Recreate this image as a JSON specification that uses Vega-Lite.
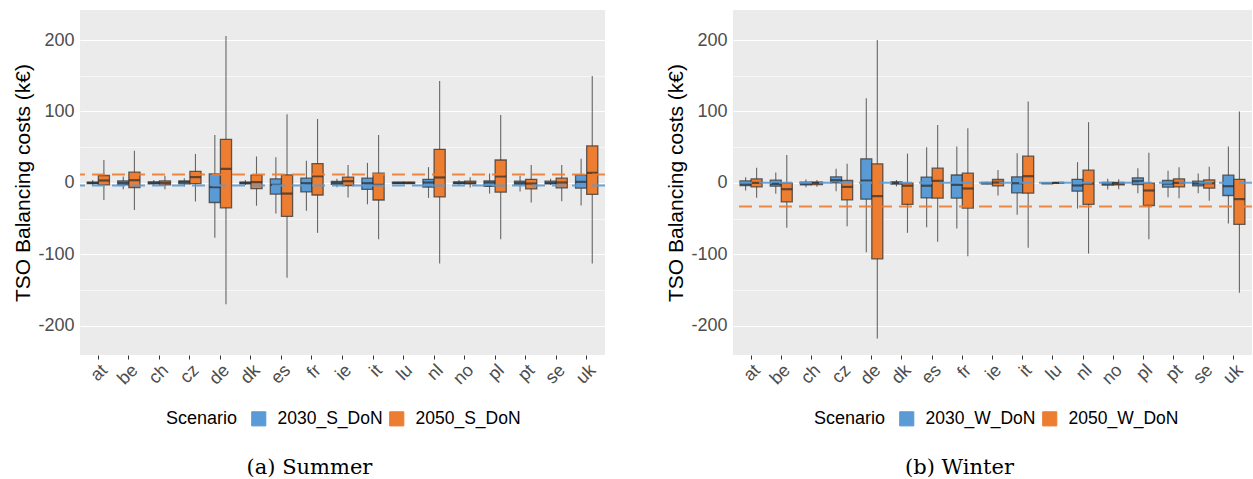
{
  "$schema": "https://vega.github.io/schema/vega-lite/v6.json",
  "padding": {"left": 12, "top": 10, "right": 0, "bottom": 0},
  "background": "white",
  "spacing": 59,
  "datasets": {
    "box": [
      {"season":"S","country":"at","scenario":"2030_S_DoN","lower":-4,"q1":-1,"median":0,"q3":1,"upper":4},
      {"season":"S","country":"at","scenario":"2050_S_DoN","lower":-24,"q1":-2.8,"median":3.3,"q3":10.3,"upper":32},
      {"season":"S","country":"be","scenario":"2030_S_DoN","lower":-9,"q1":-2.8,"median":0,"q3":2.8,"upper":9},
      {"season":"S","country":"be","scenario":"2050_S_DoN","lower":-38,"q1":-6.5,"median":3.7,"q3":15,"upper":45},
      {"season":"S","country":"ch","scenario":"2030_S_DoN","lower":-3,"q1":-1.4,"median":0,"q3":1.4,"upper":4},
      {"season":"S","country":"ch","scenario":"2050_S_DoN","lower":-9,"q1":-2.8,"median":0,"q3":2.8,"upper":10},
      {"season":"S","country":"cz","scenario":"2030_S_DoN","lower":-5,"q1":-1.4,"median":1,"q3":2.8,"upper":6.5},
      {"season":"S","country":"cz","scenario":"2050_S_DoN","lower":-26,"q1":-1,"median":8,"q3":16,"upper":40.5},
      {"season":"S","country":"de","scenario":"2030_S_DoN","lower":-77,"q1":-27.5,"median":-6,"q3":12.6,"upper":67},
      {"season":"S","country":"de","scenario":"2050_S_DoN","lower":-170,"q1":-35,"median":19.6,"q3":61,"upper":205.6},
      {"season":"S","country":"dk","scenario":"2030_S_DoN","lower":-3,"q1":-1.4,"median":0,"q3":1,"upper":4},
      {"season":"S","country":"dk","scenario":"2050_S_DoN","lower":-32,"q1":-8,"median":1,"q3":10.7,"upper":37},
      {"season":"S","country":"es","scenario":"2030_S_DoN","lower":-43,"q1":-15.9,"median":-2.8,"q3":5.6,"upper":36},
      {"season":"S","country":"es","scenario":"2050_S_DoN","lower":-133,"q1":-47,"median":-15,"q3":11.2,"upper":96},
      {"season":"S","country":"fr","scenario":"2030_S_DoN","lower":-39,"q1":-12.6,"median":-0.5,"q3":6.5,"upper":31},
      {"season":"S","country":"fr","scenario":"2050_S_DoN","lower":-70,"q1":-17,"median":9.3,"q3":27,"upper":89.5},
      {"season":"S","country":"ie","scenario":"2030_S_DoN","lower":-6,"q1":-2,"median":0,"q3":2,"upper":5.6},
      {"season":"S","country":"ie","scenario":"2050_S_DoN","lower":-20.5,"q1":-3.7,"median":2.3,"q3":8,"upper":25},
      {"season":"S","country":"it","scenario":"2030_S_DoN","lower":-30,"q1":-9,"median":-0.5,"q3":6.5,"upper":28},
      {"season":"S","country":"it","scenario":"2050_S_DoN","lower":-79,"q1":-24,"median":-2.8,"q3":13.5,"upper":67},
      {"season":"S","country":"lu","scenario":"2030_S_DoN","lower":-1.5,"q1":-1,"median":0,"q3":1,"upper":1.5},
      {"season":"S","country":"lu","scenario":"2050_S_DoN","lower":-1.5,"q1":-1,"median":0,"q3":1,"upper":1.5},
      {"season":"S","country":"nl","scenario":"2030_S_DoN","lower":-21,"q1":-6,"median":0.5,"q3":5,"upper":22},
      {"season":"S","country":"nl","scenario":"2050_S_DoN","lower":-113,"q1":-19.6,"median":7.5,"q3":47,"upper":142.7},
      {"season":"S","country":"no","scenario":"2030_S_DoN","lower":-3,"q1":-1,"median":0,"q3":1.4,"upper":4},
      {"season":"S","country":"no","scenario":"2050_S_DoN","lower":-6.5,"q1":-1.4,"median":0,"q3":2.3,"upper":8},
      {"season":"S","country":"pl","scenario":"2030_S_DoN","lower":-15,"q1":-5,"median":0.5,"q3":2.8,"upper":13},
      {"season":"S","country":"pl","scenario":"2050_S_DoN","lower":-79,"q1":-13,"median":9,"q3":32,"upper":95},
      {"season":"S","country":"pt","scenario":"2030_S_DoN","lower":-12,"q1":-2,"median":0,"q3":2.3,"upper":10},
      {"season":"S","country":"pt","scenario":"2050_S_DoN","lower":-27.5,"q1":-8.4,"median":-1,"q3":5,"upper":25},
      {"season":"S","country":"se","scenario":"2030_S_DoN","lower":-3,"q1":-1.4,"median":0,"q3":2.3,"upper":5.6},
      {"season":"S","country":"se","scenario":"2050_S_DoN","lower":-25.6,"q1":-7,"median":0.5,"q3":6.5,"upper":25},
      {"season":"S","country":"uk","scenario":"2030_S_DoN","lower":-31.7,"q1":-7.5,"median":1.4,"q3":10.7,"upper":33.6},
      {"season":"S","country":"uk","scenario":"2050_S_DoN","lower":-113,"q1":-16,"median":14,"q3":51.7,"upper":149.7},
      {"season":"W","country":"at","scenario":"2030_W_DoN","lower":-10.7,"q1":-4,"median":-1.4,"q3":2.8,"upper":8},
      {"season":"W","country":"at","scenario":"2050_W_DoN","lower":-21,"q1":-5.6,"median":0,"q3":5.6,"upper":21},
      {"season":"W","country":"be","scenario":"2030_W_DoN","lower":-15.4,"q1":-4.7,"median":-1.4,"q3":3.7,"upper":14.5},
      {"season":"W","country":"be","scenario":"2050_W_DoN","lower":-63,"q1":-26.6,"median":-8.9,"q3":-0.5,"upper":39},
      {"season":"W","country":"ch","scenario":"2030_W_DoN","lower":-6,"q1":-2.8,"median":-1,"q3":1,"upper":4.7},
      {"season":"W","country":"ch","scenario":"2050_W_DoN","lower":-5.6,"q1":-2.3,"median":0,"q3":1,"upper":4},
      {"season":"W","country":"cz","scenario":"2030_W_DoN","lower":-11.7,"q1":0,"median":3.7,"q3":8.4,"upper":19.6},
      {"season":"W","country":"cz","scenario":"2050_W_DoN","lower":-60.6,"q1":-23.8,"median":-5.6,"q3":3.3,"upper":26.6},
      {"season":"W","country":"de","scenario":"2030_W_DoN","lower":-97,"q1":-22.8,"median":3.3,"q3":33.6,"upper":118.4},
      {"season":"W","country":"de","scenario":"2050_W_DoN","lower":-218,"q1":-106.3,"median":-18.6,"q3":26.6,"upper":200},
      {"season":"W","country":"dk","scenario":"2030_W_DoN","lower":-5,"q1":-1.9,"median":0,"q3":1.4,"upper":4},
      {"season":"W","country":"dk","scenario":"2050_W_DoN","lower":-70,"q1":-30,"median":-4,"q3":-0.5,"upper":41},
      {"season":"W","country":"es","scenario":"2030_W_DoN","lower":-62,"q1":-21,"median":-4,"q3":8,"upper":50},
      {"season":"W","country":"es","scenario":"2050_W_DoN","lower":-82.5,"q1":-21.4,"median":2.8,"q3":20.5,"upper":81},
      {"season":"W","country":"fr","scenario":"2030_W_DoN","lower":-64,"q1":-21.4,"median":-2.8,"q3":11,"upper":51},
      {"season":"W","country":"fr","scenario":"2050_W_DoN","lower":-102.6,"q1":-35.4,"median":-7.9,"q3":13.5,"upper":76.5},
      {"season":"W","country":"ie","scenario":"2030_W_DoN","lower":-2,"q1":-1.4,"median":-0.5,"q3":0.5,"upper":1.5},
      {"season":"W","country":"ie","scenario":"2050_W_DoN","lower":-17.7,"q1":-4.2,"median":0.5,"q3":4.7,"upper":18},
      {"season":"W","country":"it","scenario":"2030_W_DoN","lower":-44.8,"q1":-14,"median":-0.5,"q3":8.4,"upper":41.5},
      {"season":"W","country":"it","scenario":"2050_W_DoN","lower":-91,"q1":-14.5,"median":9.3,"q3":37.3,"upper":113.8},
      {"season":"W","country":"lu","scenario":"2030_W_DoN","lower":-1.5,"q1":-1,"median":-0.5,"q3":0,"upper":1},
      {"season":"W","country":"lu","scenario":"2050_W_DoN","lower":-1,"q1":-0.5,"median":0,"q3":0.5,"upper":1},
      {"season":"W","country":"nl","scenario":"2030_W_DoN","lower":-36,"q1":-11.7,"median":-3.7,"q3":5,"upper":29},
      {"season":"W","country":"nl","scenario":"2050_W_DoN","lower":-99,"q1":-30,"median":-1,"q3":17.7,"upper":85},
      {"season":"W","country":"no","scenario":"2030_W_DoN","lower":-9.3,"q1":-3.3,"median":-1,"q3":0.5,"upper":5.6},
      {"season":"W","country":"no","scenario":"2050_W_DoN","lower":-8.9,"q1":-2.8,"median":-1,"q3":0.5,"upper":5},
      {"season":"W","country":"pl","scenario":"2030_W_DoN","lower":-14.5,"q1":-2.3,"median":2.3,"q3":7,"upper":20.5},
      {"season":"W","country":"pl","scenario":"2050_W_DoN","lower":-79,"q1":-31.7,"median":-10.7,"q3":-0.5,"upper":42},
      {"season":"W","country":"pt","scenario":"2030_W_DoN","lower":-20,"q1":-6,"median":-1,"q3":3.3,"upper":17},
      {"season":"W","country":"pt","scenario":"2050_W_DoN","lower":-21.4,"q1":-5.6,"median":0,"q3":5.6,"upper":22},
      {"season":"W","country":"se","scenario":"2030_W_DoN","lower":-14.5,"q1":-4.2,"median":-1,"q3":2.3,"upper":13},
      {"season":"W","country":"se","scenario":"2050_W_DoN","lower":-25,"q1":-7.5,"median":-0.5,"q3":4.2,"upper":22.4},
      {"season":"W","country":"uk","scenario":"2030_W_DoN","lower":-57,"q1":-17.7,"median":-4.7,"q3":10.7,"upper":51},
      {"season":"W","country":"uk","scenario":"2050_W_DoN","lower":-154,"q1":-58,"median":-22.8,"q3":5,"upper":100}
    ],
    "means": [
      {"season":"S","scenario":"2030_S_DoN","mean":-3.7},
      {"season":"S","scenario":"2050_S_DoN","mean":11.7},
      {"season":"W","scenario":"2030_W_DoN","mean":0},
      {"season":"W","scenario":"2050_W_DoN","mean":-33}
    ]
  },
  "hconcat": [
    {
      "width": 525, "height": 345,
      "title": {"text": "(a) Summer", "orient": "bottom", "anchor": "middle", "frame": "bounds", "font": "DejaVu Serif", "fontSize": 21, "fontWeight": "normal", "color": "black", "offset": 29},
      "layer": [
        {
          "data": {"name": "box"},
          "transform": [{"filter": "datum.season === 'S'"}],
          "mark": {"type": "rule", "color": "#3a3a3a", "strokeWidth": 1.1, "opacity": 0.75},
          "encoding": {
            "x": {"field": "country", "type": "nominal", "sort": null, "scale": {"paddingInner": 0.27, "paddingOuter": 0.235}, "axis": {"title": null, "labelAngle": -45, "bandPosition": 0.5}},
            "xOffset": {"field": "scenario", "type": "nominal", "scale": {"paddingInner": 0, "paddingOuter": 0}},
            "y": {"field": "lower", "type": "quantitative", "scale": {"domain": [-241, 242], "nice": false, "zero": false}, "title": "TSO Balancing costs (k€)"},
            "y2": {"field": "upper"}
          }
        },
        {
          "data": {"name": "box"},
          "transform": [{"filter": "datum.season === 'S'"}],
          "mark": {"type": "bar", "stroke": "#333333", "strokeOpacity": 0.75, "strokeWidth": 1.3},
          "encoding": {
            "x": {"field": "country", "type": "nominal", "sort": null},
            "xOffset": {"field": "scenario", "type": "nominal"},
            "y": {"field": "q1", "type": "quantitative"},
            "y2": {"field": "q3"},
            "color": {"field": "scenario", "type": "nominal", "scale": {"domain": ["2030_S_DoN", "2050_S_DoN"], "range": ["#5B9BD5", "#ED7D31"]}, "legend": {"title": "Scenario", "orient": "none", "legendX": 86, "legendY": 400}}
          }
        },
        {
          "data": {"name": "box"},
          "transform": [{"filter": "datum.season === 'S'"}],
          "mark": {"type": "tick", "color": "#2a2a2a", "thickness": 2.2, "size": 11},
          "encoding": {
            "x": {"field": "country", "type": "nominal", "sort": null},
            "xOffset": {"field": "scenario", "type": "nominal"},
            "y": {"field": "median", "type": "quantitative"}
          }
        },
        {
          "data": {"name": "means"},
          "transform": [{"filter": "datum.season === 'S'"}],
          "mark": {"type": "rule", "strokeDash": [13, 7], "strokeWidth": 2, "opacity": 0.9},
          "encoding": {
            "y": {"field": "mean", "type": "quantitative"},
            "color": {"field": "scenario", "type": "nominal"}
          }
        }
      ]
    },
    {
      "width": 519, "height": 345,
      "title": {"text": "(b) Winter", "orient": "bottom", "anchor": "middle", "frame": "bounds", "font": "DejaVu Serif", "fontSize": 21, "fontWeight": "normal", "color": "black", "offset": 29},
      "layer": [
        {
          "data": {"name": "box"},
          "transform": [{"filter": "datum.season === 'W'"}],
          "mark": {"type": "rule", "color": "#3a3a3a", "strokeWidth": 1.1, "opacity": 0.75},
          "encoding": {
            "x": {"field": "country", "type": "nominal", "sort": null, "scale": {"paddingInner": 0.27, "paddingOuter": 0.235}, "axis": {"title": null, "labelAngle": -45, "bandPosition": 0.5}},
            "xOffset": {"field": "scenario", "type": "nominal", "scale": {"paddingInner": 0, "paddingOuter": 0}},
            "y": {"field": "lower", "type": "quantitative", "scale": {"domain": [-241, 242], "nice": false, "zero": false}, "title": "TSO Balancing costs (k€)"},
            "y2": {"field": "upper"}
          }
        },
        {
          "data": {"name": "box"},
          "transform": [{"filter": "datum.season === 'W'"}],
          "mark": {"type": "bar", "stroke": "#333333", "strokeOpacity": 0.75, "strokeWidth": 1.3},
          "encoding": {
            "x": {"field": "country", "type": "nominal", "sort": null},
            "xOffset": {"field": "scenario", "type": "nominal"},
            "y": {"field": "q1", "type": "quantitative"},
            "y2": {"field": "q3"},
            "color": {"field": "scenario", "type": "nominal", "scale": {"domain": ["2030_W_DoN", "2050_W_DoN"], "range": ["#5B9BD5", "#ED7D31"]}, "legend": {"title": "Scenario", "orient": "none", "legendX": 81, "legendY": 400}}
          }
        },
        {
          "data": {"name": "box"},
          "transform": [{"filter": "datum.season === 'W'"}],
          "mark": {"type": "tick", "color": "#2a2a2a", "thickness": 2.2, "size": 11},
          "encoding": {
            "x": {"field": "country", "type": "nominal", "sort": null},
            "xOffset": {"field": "scenario", "type": "nominal"},
            "y": {"field": "median", "type": "quantitative"}
          }
        },
        {
          "data": {"name": "means"},
          "transform": [{"filter": "datum.season === 'W'"}],
          "mark": {"type": "rule", "strokeDash": [13, 7], "strokeWidth": 2, "opacity": 0.9},
          "encoding": {
            "y": {"field": "mean", "type": "quantitative"},
            "color": {"field": "scenario", "type": "nominal"}
          }
        }
      ]
    }
  ],
  "resolve": {"scale": {"color": "independent", "x": "independent", "y": "independent", "xOffset": "independent"}},
  "config": {
    "font": "Liberation Sans",
    "view": {"fill": "#EBEBEB", "stroke": null},
    "axis": {
      "domain": false,
      "gridColor": "white",
      "gridOpacity": 1,
      "tickColor": "#333333",
      "tickSize": 4,
      "labelFont": "Liberation Sans",
      "titleFont": "Liberation Sans",
      "labelColor": "#4D4D4D",
      "labelFontSize": 18,
      "labelPadding": 2,
      "titleFontSize": 21,
      "titleFontWeight": "normal",
      "titleColor": "black",
      "titlePadding": 4
    },
    "axisX": {"gridWidth": 1.1, "labelFontSize": 18},
    "axisY": {
      "values": [-200, -150, -100, -50, 0, 50, 100, 150, 200],
      "labelExpr": "datum.value % 100 === 0 ? '' + datum.value : ''",
      "gridWidth": {"condition": {"test": "datum.value % 100 === 0", "value": 1.2}, "value": 0.6},
      "tickOpacity": {"condition": {"test": "datum.value % 100 === 0", "value": 1}, "value": 0}
    },
    "legend": {
      "direction": "horizontal",
      "titleOrient": "left",
      "titleFont": "Liberation Sans",
      "labelFont": "Liberation Sans",
      "titleFontSize": 18,
      "titleFontWeight": "normal",
      "titleColor": "black",
      "titlePadding": 12,
      "labelFontSize": 17.5,
      "labelColor": "black",
      "labelOffset": 10,
      "columnPadding": 4,
      "symbolType": "square",
      "symbolSize": 200,
      "symbolStrokeColor": "#333333",
      "symbolStrokeWidth": 1,
      "symbolOpacity": 1
    }
  }
}
